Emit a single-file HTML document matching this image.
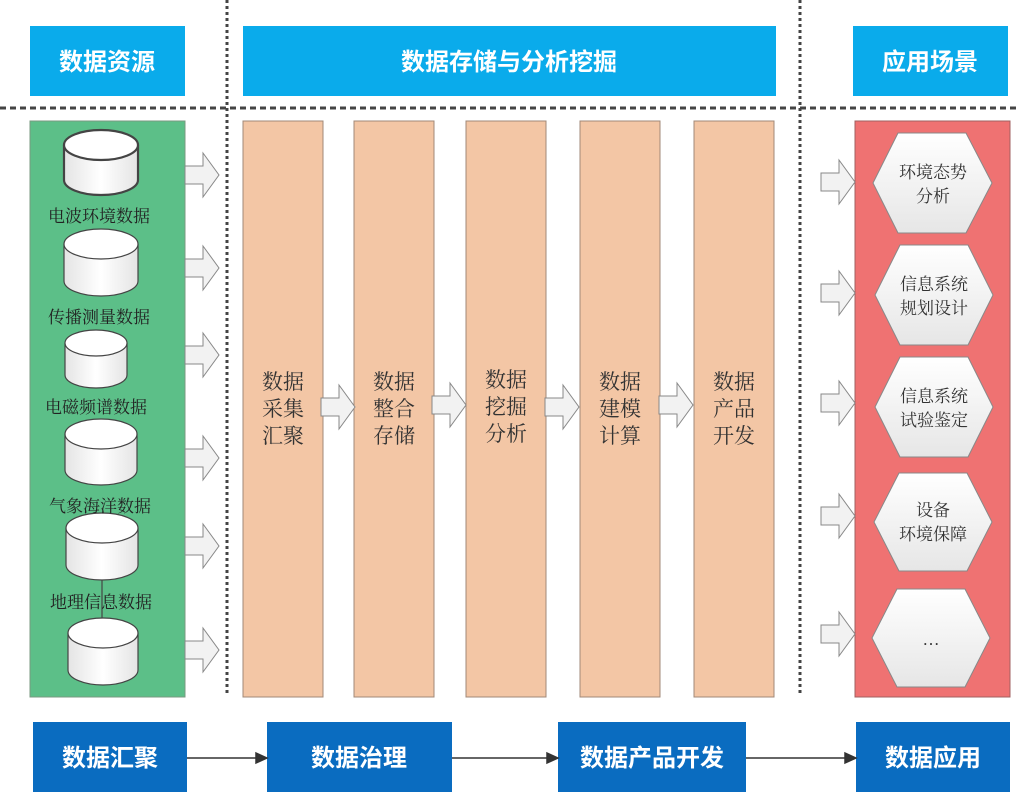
<!DOCTYPE html>
<html><head><meta charset="utf-8"><style>
html,body{margin:0;padding:0;background:#fff}
text{font-family:"Liberation Serif","Noto Serif CJK SC",serif}
.b{font-family:"Liberation Sans","Noto Sans CJK SC",sans-serif;font-weight:bold;fill:#fff;font-size:24px}
</style></head><body>
<svg width="1016" height="797" viewBox="0 0 1016 797" xmlns="http://www.w3.org/2000/svg">
<defs>
<linearGradient id="cy" x1="0" x2="1"><stop offset="0" stop-color="#e4e4e4"/><stop offset="0.5" stop-color="#fff"/><stop offset="1" stop-color="#e4e4e4"/></linearGradient>
<linearGradient id="hx" x1="0" y1="0" x2="0" y2="1"><stop offset="0" stop-color="#fff"/><stop offset="1" stop-color="#e6e6e6"/></linearGradient>
<g id="ar"><path d="M0,-9 H18 V-22 L34,0 L18,22 V9 H0 Z" fill="#f2f2f2" stroke="#888" stroke-width="1"/></g>
</defs>
<!-- dashed separators -->
<line x1="0" y1="108" x2="1016" y2="108" stroke="#444" stroke-width="3" stroke-dasharray="6,4"/>
<line x1="227" y1="0" x2="227" y2="695" stroke="#444" stroke-width="3" stroke-dasharray="3,3"/>
<line x1="800" y1="0" x2="800" y2="695" stroke="#444" stroke-width="3" stroke-dasharray="3,3"/>
<!-- headers -->
<rect x="30" y="26" width="155" height="70" fill="#0aabeb"/>
<text x="107" y="70" class="b" text-anchor="middle">数据资源</text>
<rect x="243" y="26" width="533" height="70" fill="#0aabeb"/>
<text x="509" y="70" class="b" text-anchor="middle">数据存储与分析挖掘</text>
<rect x="853" y="26" width="155" height="70" fill="#0aabeb"/>
<text x="930" y="70" class="b" text-anchor="middle">应用场景</text>
<!-- green panel -->
<rect x="30" y="121" width="155" height="576" fill="#5cbf88" stroke="#7a9a80"/>
<g stroke="#444" stroke-width="1.2" fill="url(#cy)">
<path d="M64,145 V180 A37,15 0 0 0 138,180 V145" stroke-width="2.2"/><ellipse cx="101" cy="145" rx="37" ry="15" fill="#fff" stroke-width="2.2"/>
<path d="M64,244 V281 A37,15 0 0 0 138,281 V244"/><ellipse cx="101" cy="244" rx="37" ry="15" fill="#fff"/>
<path d="M65,343 V375 A31,13 0 0 0 127,375 V343"/><ellipse cx="96" cy="343" rx="31" ry="13" fill="#fff"/>
<path d="M65,434 V470 A36,15 0 0 0 137,470 V434"/><ellipse cx="101" cy="434" rx="36" ry="15" fill="#fff"/>
<path d="M66,528 V565 A36,15 0 0 0 138,565 V528"/><ellipse cx="102" cy="528" rx="36" ry="15" fill="#fff"/>
<line x1="102" y1="580" x2="102" y2="620"/>
<path d="M68,633 V670 A35,15 0 0 0 138,670 V633"/><ellipse cx="103" cy="633" rx="35" ry="15" fill="#fff"/>
</g>
<g font-size="17" fill="#222" text-anchor="middle">
<text x="99" y="222">电波环境数据</text>
<text x="99" y="323">传播测量数据</text>
<text x="96" y="413">电磁频谱数据</text>
<text x="100" y="512">气象海洋数据</text>
<text x="101" y="608">地理信息数据</text>
</g>
<use href="#ar" x="185" y="175"/><use href="#ar" x="185" y="268"/><use href="#ar" x="185" y="355"/>
<use href="#ar" x="185" y="458"/><use href="#ar" x="185" y="546"/><use href="#ar" x="185" y="650"/>
<!-- orange columns -->
<g fill="#f3c6a5" stroke="#a08878">
<rect x="243" y="121" width="80" height="576"/><rect x="354" y="121" width="80" height="576"/>
<rect x="466" y="121" width="80" height="576"/><rect x="580" y="121" width="80" height="576"/>
<rect x="694" y="121" width="80" height="576"/>
</g>
<use href="#ar" x="321" y="407"/><use href="#ar" x="432" y="405"/><use href="#ar" x="545" y="407"/><use href="#ar" x="659" y="405"/>
<g font-size="21" fill="#333" text-anchor="middle">
<text x="283" y="389">数据</text><text x="283" y="416">采集</text><text x="283" y="443">汇聚</text>
<text x="394" y="389">数据</text><text x="394" y="416">整合</text><text x="394" y="443">存储</text>
<text x="506" y="387">数据</text><text x="506" y="414">挖掘</text><text x="506" y="441">分析</text>
<text x="620" y="389">数据</text><text x="620" y="416">建模</text><text x="620" y="443">计算</text>
<text x="734" y="389">数据</text><text x="734" y="416">产品</text><text x="734" y="443">开发</text>
</g>
<!-- red panel -->
<rect x="855" y="121" width="155" height="576" fill="#ef7272" stroke="#a06060"/>
<use href="#ar" x="821" y="182"/><use href="#ar" x="821" y="293"/><use href="#ar" x="821" y="403"/>
<use href="#ar" x="821" y="516"/><use href="#ar" x="821" y="634"/>
<g fill="url(#hx)" stroke="#888">
<path d="M873,183 L898,133 H966 L992,183 L966,233 H898 Z"/>
<path d="M875,295 L900,245 H968 L993,295 L968,345 H900 Z"/>
<path d="M875,407 L900,357 H968 L993,407 L968,457 H900 Z"/>
<path d="M874,522 L899,473 H967 L992,522 L967,571 H899 Z"/>
<path d="M872,638 L897,589 H965 L990,638 L965,687 H897 Z"/>
</g>
<g font-size="17" fill="#333" text-anchor="middle">
<text x="933" y="178">环境态势</text><text x="933" y="202">分析</text>
<text x="934" y="290">信息系统</text><text x="934" y="314">规划设计</text>
<text x="934" y="402">信息系统</text><text x="934" y="426">试验鉴定</text>
<text x="933" y="516">设备</text><text x="933" y="540">环境保障</text>
<text x="931" y="645">…</text>
</g>
<!-- bottom -->
<g fill="#0a6cc0">
<rect x="33" y="722" width="154" height="70"/><rect x="267" y="722" width="185" height="70"/>
<rect x="558" y="722" width="188" height="70"/><rect x="856" y="722" width="154" height="70"/>
</g>
<text x="110" y="766" class="b" text-anchor="middle">数据汇聚</text>
<text x="359" y="766" class="b" text-anchor="middle">数据治理</text>
<text x="652" y="766" class="b" text-anchor="middle">数据产品开发</text>
<text x="933" y="766" class="b" text-anchor="middle">数据应用</text>
<g stroke="#333" stroke-width="1.5" fill="#333">
<line x1="187" y1="758" x2="258" y2="758"/><path d="M267,758 L256,753 V763 Z"/>
<line x1="452" y1="758" x2="549" y2="758"/><path d="M558,758 L547,753 V763 Z"/>
<line x1="746" y1="758" x2="847" y2="758"/><path d="M856,758 L845,753 V763 Z"/>
</g>
</svg>
</body></html>
